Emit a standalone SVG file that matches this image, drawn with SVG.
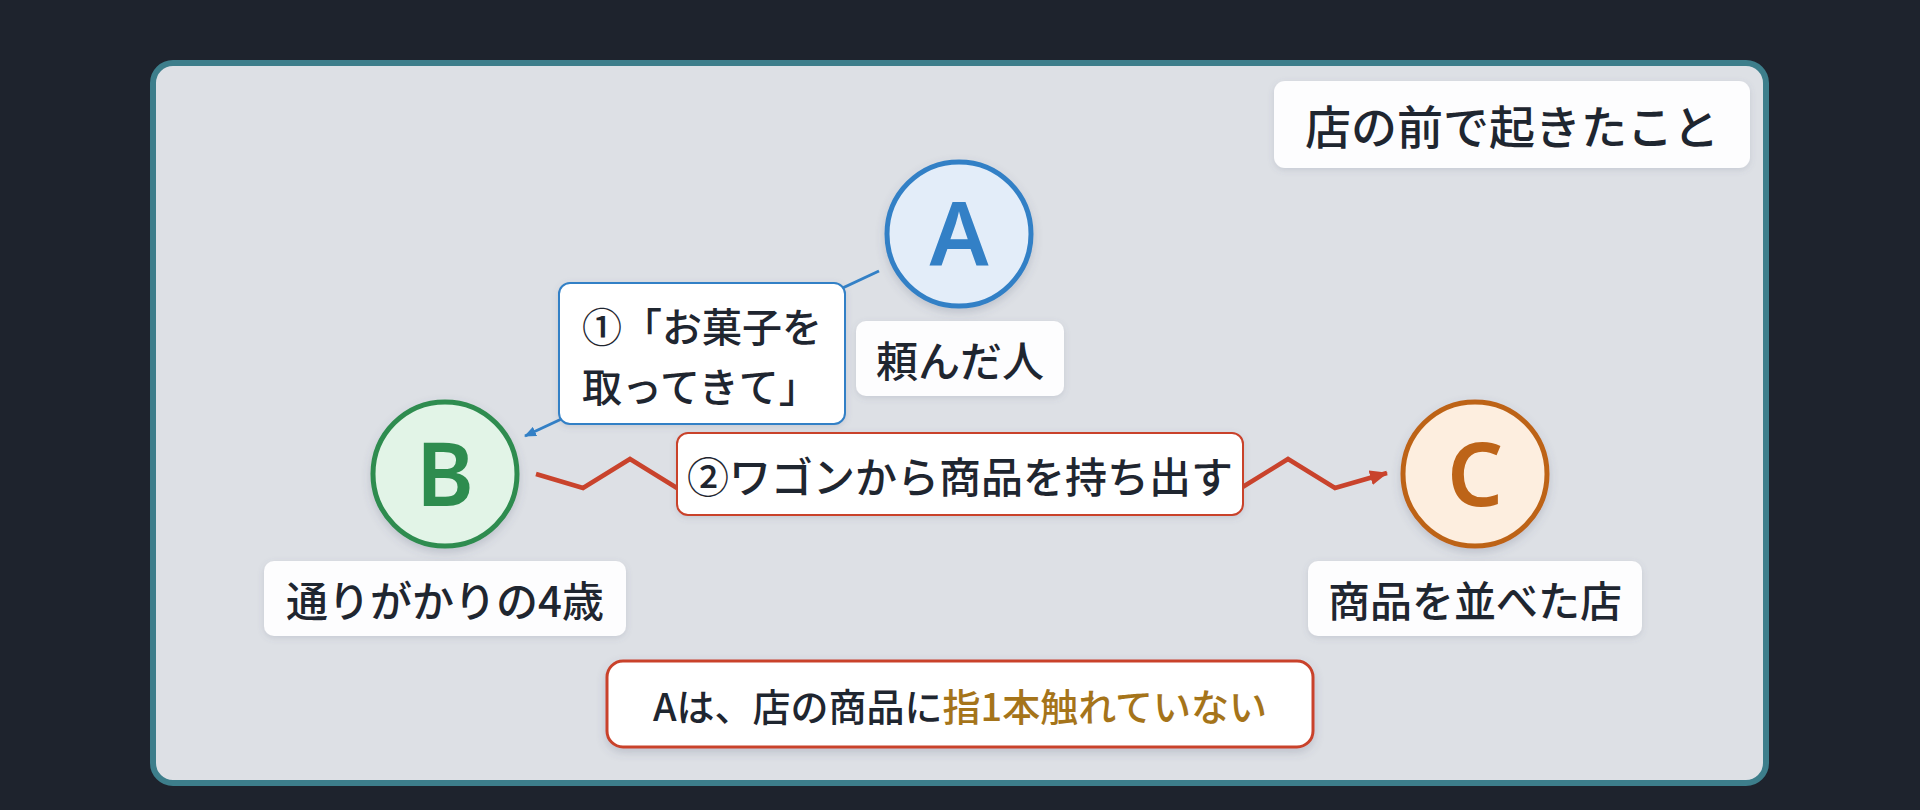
<svg xmlns="http://www.w3.org/2000/svg" width="1920" height="810" viewBox="0 0 1920 810">
<style>
.jp{font-family:"Noto Sans CJK JP","Noto Sans",sans-serif;font-weight:500;fill:#1f2630;dominant-baseline:central}
.lbl{font-size:42px;text-anchor:middle}
.lbox{fill:#fdfdfe;filter:url(#sh)}
.letter{font-family:"Noto Sans","Liberation Sans",sans-serif;font-size:88px;font-weight:600;text-anchor:middle}
.circ{stroke-width:5;filter:url(#sh2)}
</style>
<defs>
<filter id="sh" x="-20%" y="-30%" width="140%" height="170%">
<feDropShadow dx="0" dy="2" stdDeviation="3" flood-color="#5a6680" flood-opacity="0.18"/>
</filter>
<filter id="sh2" x="-30%" y="-30%" width="160%" height="170%">
<feDropShadow dx="0" dy="4" stdDeviation="5" flood-color="#4a5570" flood-opacity="0.22"/>
</filter>
<marker id="arrB" markerUnits="userSpaceOnUse" markerWidth="12" markerHeight="10" refX="11" refY="5" orient="auto">
<path d="M0,0 L12,5 L0,10 z" fill="#3380c6"/>
</marker>
<marker id="arrR" markerUnits="userSpaceOnUse" markerWidth="18" markerHeight="15" refX="17" refY="7.5" orient="auto">
<path d="M0,0 L18,7.5 L0,15 z" fill="#c9432c"/>
</marker>
</defs>
<rect width="1920" height="810" fill="#1e232d"/>
<rect id="panel" x="153" y="63" width="1613" height="720" rx="20" fill="#dde0e5" stroke="#3d7e8b" stroke-width="6"/>

<g id="title">
<rect class="lbox" x="1274" y="81" width="476" height="87" rx="11"/>
<text class="jp" x="1512" y="124" font-size="46" text-anchor="middle">店の前で起きたこと</text>
</g>

<g id="connectors">
<path id="edge-A-B" d="M879,271 L525,436" fill="none" stroke="#3380c6" stroke-width="3" marker-end="url(#arrB)"/>
<polyline id="edge-B-C" points="536,474 583,488 630,459 677,488 724,459 771,488 818,459 865,488 912,459 959,488 1006,459 1053,488 1100,459 1147,488 1194,459 1241,488 1288,459 1335,488 1387,473" fill="none" stroke="#c9432c" stroke-width="4.5" stroke-linejoin="miter" marker-end="url(#arrR)"/>
<g id="label-A-B">
<rect x="559" y="283" width="286" height="141" rx="11" fill="#ffffff" stroke="#3380c6" stroke-width="2" filter="url(#sh)"/>
<text class="jp" x="582" y="325" font-size="40">①「お菓子を</text>
<text class="jp" x="582" y="385" font-size="40">取ってきて」</text>
</g>
<g id="label-B-C">
<rect x="677" y="433" width="566" height="82" rx="11" fill="#ffffff" stroke="#c9432c" stroke-width="2" filter="url(#sh)"/>
<text class="jp" x="960" y="474" font-size="42" text-anchor="middle">②ワゴンから商品を持ち出す</text>
</g>
</g>

<g id="node-A">
<circle class="circ" cx="959" cy="234" r="72" fill="#e3edf9" stroke="#3380c6"/>
<text class="letter" x="959" y="266" fill="#3380c6">A</text>
<rect class="lbox" x="856" y="321" width="208" height="75" rx="10"/>
<text class="jp lbl" x="960" y="358.5">頼んだ人</text>
</g>

<g id="node-B">
<circle class="circ" cx="445" cy="474" r="72" fill="#e2f4e7" stroke="#2e8c4f"/>
<text class="letter" x="445" y="506" fill="#2e8c4f">B</text>
<rect class="lbox" x="264" y="561" width="362" height="75" rx="10"/>
<text class="jp lbl" x="445" y="598.5">通りがかりの4歳</text>
</g>

<g id="node-C">
<circle class="circ" cx="1475" cy="474" r="72" fill="#fdeedf" stroke="#bd6418"/>
<text class="letter" x="1475" y="506" fill="#bd6418">C</text>
<rect class="lbox" x="1308" y="561" width="334" height="75" rx="10"/>
<text class="jp lbl" x="1475" y="598.5">商品を並べた店</text>
</g>

<g id="note">
<rect x="607" y="661" width="706" height="86" rx="16" fill="#ffffff" stroke="#c9432c" stroke-width="3" filter="url(#sh2)"/>
<text class="jp" x="960" y="704" font-size="38" text-anchor="middle">Aは、店の商品に<tspan fill="#a5741a">指1本触れていない</tspan></text>
</g>
</svg>
